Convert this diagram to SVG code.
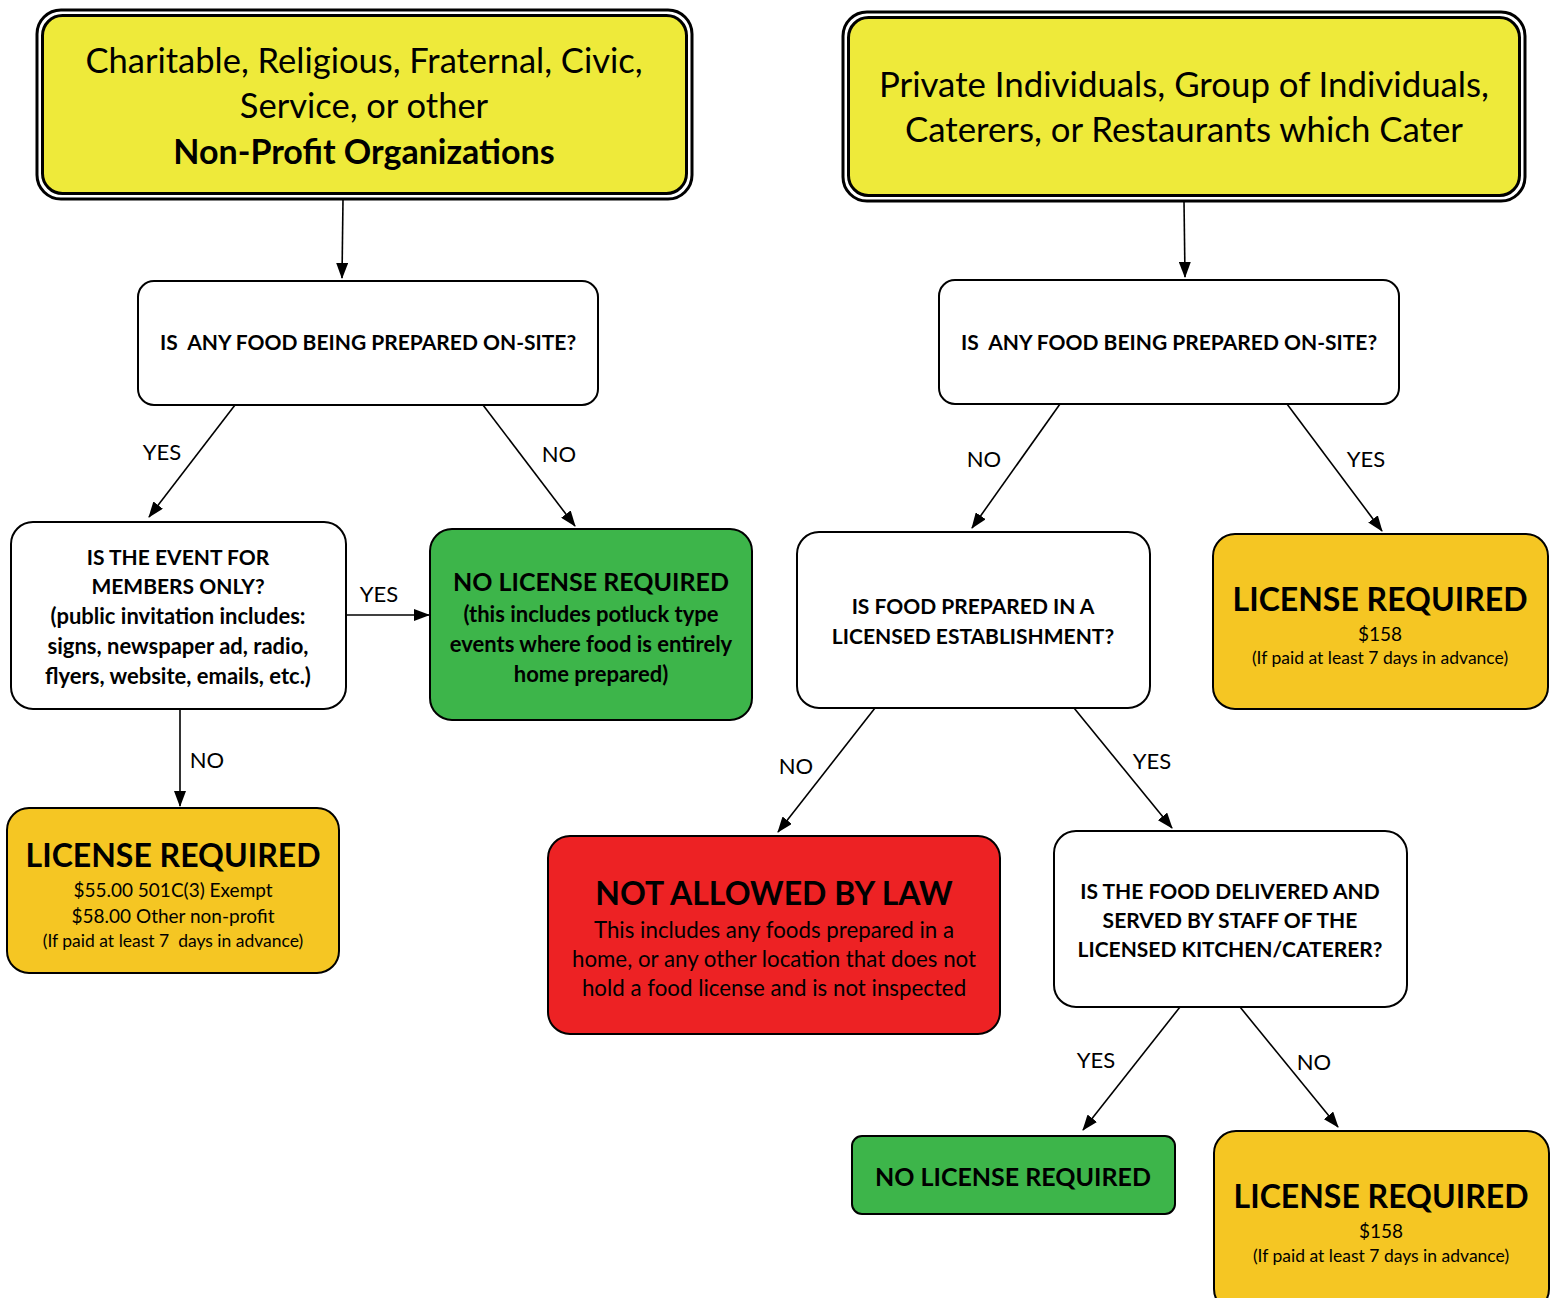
<svg xmlns="http://www.w3.org/2000/svg" width="1556" height="1298" viewBox="0 0 1556 1298">
<style>
text{font-family:Lato,"Open Sans","Liberation Sans",sans-serif;fill:#000;text-anchor:middle}
.b{font-weight:bold}
.box{stroke:#000;stroke-width:2}
.q{fill:#fff}
.g{fill:#3db54a}
.o{fill:#f5c623}
.r{fill:#ed2224}
.y{fill:#eeea3a}
.c{stroke:#000;stroke-width:1.6;fill:none;marker-end:url(#ah)}
.lbl{font-size:22px}
.qt{font-size:21px;font-weight:bold}
.ql{font-size:22px;font-weight:bold}
.big{font-size:32px;font-weight:bold}
.hd{font-size:25px;font-weight:bold}
.sm{font-size:17.5px}
</style>
<defs>
<marker id="ah" markerUnits="userSpaceOnUse" markerWidth="16" markerHeight="12" refX="15" refY="6" orient="auto">
<path d="M0,0 L16,6 L0,12 z" fill="#000"/>
</marker>
</defs>
<rect width="1556" height="1298" fill="#fff"/>
<g id="connectors">
<line class="c" x1="343" y1="199" x2="342" y2="278"/>
<line class="c" x1="1184" y1="201" x2="1185" y2="277"/>
<line class="c" x1="235" y1="405" x2="149" y2="517"/>
<line class="c" x1="483" y1="405" x2="575" y2="526"/>
<line class="c" x1="346" y1="615" x2="429" y2="615"/>
<line class="c" x1="180" y1="709" x2="180" y2="806"/>
<line class="c" x1="1060" y1="404" x2="972" y2="528"/>
<line class="c" x1="1287" y1="404" x2="1382" y2="531"/>
<line class="c" x1="875" y1="708" x2="778" y2="832"/>
<line class="c" x1="1074" y1="708" x2="1172" y2="828"/>
<line class="c" x1="1180" y1="1007" x2="1083" y2="1130"/>
<line class="c" x1="1240" y1="1007" x2="1338" y2="1127"/>
<text class="lbl" x="162" y="460">YES</text>
<text class="lbl" x="559" y="462">NO</text>
<text class="lbl" x="379" y="602">YES</text>
<text class="lbl" x="207" y="768">NO</text>
<text class="lbl" x="984" y="467">NO</text>
<text class="lbl" x="1366" y="467">YES</text>
<text class="lbl" x="796" y="774">NO</text>
<text class="lbl" x="1152" y="769">YES</text>
<text class="lbl" x="1096" y="1068">YES</text>
<text class="lbl" x="1314" y="1070">NO</text>
</g>
<g id="start-nonprofit">
<rect x="37" y="10" width="655" height="189" rx="24" fill="#fff" stroke="#000" stroke-width="3"/>
<rect x="42.5" y="15.5" width="644" height="178" rx="20" class="y" stroke="#000" stroke-width="3"/>
<text x="364" y="73" style="font-size:34.5px">Charitable, Religious, Fraternal, Civic,</text>
<text x="364" y="118" style="font-size:34.5px">Service, or other</text>
<text x="364" y="164" style="font-size:34px" class="b">Non-Profit Organizations</text>
</g>
<g id="start-private">
<rect x="843" y="12" width="682" height="189" rx="24" fill="#fff" stroke="#000" stroke-width="3"/>
<rect x="848.5" y="17.5" width="671" height="178" rx="20" class="y" stroke="#000" stroke-width="3"/>
<text x="1184" y="97" style="font-size:34.8px">Private Individuals, Group of Individuals,</text>
<text x="1184" y="142" style="font-size:34.8px">Caterers, or Restaurants which Cater</text>
</g>
<g id="q-food-left">
<rect x="138" y="281" width="460" height="124" rx="16" class="box q"/>
<text x="368" y="350" class="qt" xml:space="preserve">IS  ANY FOOD BEING PREPARED ON-SITE?</text>
</g>
<g id="q-food-right">
<rect x="939" y="280" width="460" height="124" rx="16" class="box q"/>
<text x="1169" y="350" class="qt" xml:space="preserve">IS  ANY FOOD BEING PREPARED ON-SITE?</text>
</g>
<g id="q-members">
<rect x="11" y="522" width="335" height="187" rx="22" class="box q"/>
<text x="178" y="565" class="qt">IS THE EVENT FOR</text>
<text x="178" y="594" class="qt">MEMBERS ONLY?</text>
<text x="178" y="624" class="ql">(public invitation includes:</text>
<text x="178" y="654" class="ql">signs, newspaper ad, radio,</text>
<text x="178" y="684" class="ql">flyers, website, emails, etc.)</text>
</g>
<g id="no-license-left">
<rect x="430" y="529" width="322" height="191" rx="22" class="box g"/>
<text x="591" y="591" class="hd">NO LICENSE REQUIRED</text>
<text x="591" y="622" class="ql">(this includes potluck type</text>
<text x="591" y="652" class="ql">events where food is entirely</text>
<text x="591" y="682" class="ql">home prepared)</text>
</g>
<g id="license-left">
<rect x="7" y="808" width="332" height="165" rx="22" class="box o"/>
<text x="173" y="867" class="big">LICENSE REQUIRED</text>
<text x="173" y="897" style="font-size:19px">$55.00 501C(3) Exempt</text>
<text x="173" y="923" style="font-size:19px">$58.00 Other non-profit</text>
<text x="173" y="947" class="sm" xml:space="preserve">(If paid at least 7  days in advance)</text>
</g>
<g id="q-licensed">
<rect x="797" y="532" width="353" height="176" rx="22" class="box q"/>
<text x="973" y="614" class="qt">IS FOOD PREPARED IN A</text>
<text x="973" y="644" class="qt">LICENSED ESTABLISHMENT?</text>
</g>
<g id="license-right">
<rect x="1213" y="534" width="335" height="175" rx="22" class="box o"/>
<text x="1380" y="611" class="big">LICENSE REQUIRED</text>
<text x="1380" y="641" style="font-size:19px">$158</text>
<text x="1380" y="664" class="sm">(If paid at least 7 days in advance)</text>
</g>
<g id="not-allowed">
<rect x="548" y="836" width="452" height="198" rx="22" class="box r"/>
<text x="774" y="905" class="big">NOT ALLOWED BY LAW</text>
<text x="774" y="938" style="font-size:22.3px">This includes any foods prepared in a</text>
<text x="774" y="967" style="font-size:22.3px">home, or any other location that does not</text>
<text x="774" y="996" style="font-size:22.3px">hold a food license and is not inspected</text>
</g>
<g id="q-delivered">
<rect x="1054" y="831" width="353" height="176" rx="22" class="box q"/>
<text x="1230" y="899" class="qt">IS THE FOOD DELIVERED AND</text>
<text x="1230" y="928" class="qt">SERVED BY STAFF OF THE</text>
<text x="1230" y="957" class="qt">LICENSED KITCHEN/CATERER?</text>
</g>
<g id="no-license-right">
<rect x="852" y="1136" width="323" height="78" rx="10" class="box g"/>
<text x="1013" y="1186" class="hd">NO LICENSE REQUIRED</text>
</g>
<g id="license-bottom">
<rect x="1214" y="1131" width="335" height="180" rx="22" class="box o"/>
<text x="1381" y="1208" class="big">LICENSE REQUIRED</text>
<text x="1381" y="1238" style="font-size:19px">$158</text>
<text x="1381" y="1262" class="sm">(If paid at least 7 days in advance)</text>
</g>
</svg>
